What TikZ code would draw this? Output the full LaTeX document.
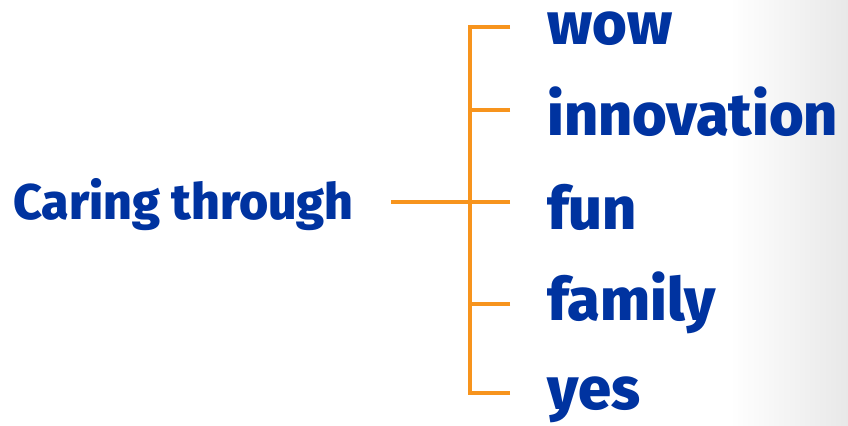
\documentclass[tikz,border=0pt]{standalone}
\usepackage{fontspec}
\setmainfont{Fira Sans}[BoldFont={Fira Sans ExtraBold}]
\usepackage{tikz}
\definecolor{brandblue}{RGB}{0,51,160}
\definecolor{brandorange}{RGB}{247,148,29}

\begin{document}
\begin{tikzpicture}[
    branch/.style={draw=brandorange, line width=2.4pt},
    word/.style={anchor=base west, inner sep=0pt, text=brandblue,
      font=\fontsize{42.3}{48}\selectfont\bfseries},
    lead/.style={anchor=base west, inner sep=0pt, text=brandblue,
      font=\fontsize{35.6}{40}\selectfont\bfseries}]
  \useasboundingbox (0cm,0cm) rectangle (21.2cm,-10.625cm);
  \shade[left color=white, right color=black!9] (18.25cm,0cm) rectangle (21.2cm,-10.625cm);
  % left label
  \node[lead] (caring) at (0.325cm,-5.475cm) {Caring through};
  % the words
  \node[word] (wow) at (13.675cm,-1.1cm) {wow};
  \node[word] (innovation) at (13.675cm,-3.375cm) {innovation};
  \node[word] (fun) at (13.675cm,-5.725cm) {fun};
  \node[word] (family) at (13.675cm,-8cm) {family};
  \node[word] (yes) at (13.675cm,-10.225cm) {yes};
  % bracket
  \coordinate (hub) at (11.75cm,-5.05cm);
  \coordinate (stem) at (9.775cm,-5.05cm);
  \coordinate (t1) at (12.75cm,-0.675cm);
  \coordinate (t2) at (12.75cm,-2.75cm);
  \coordinate (t3) at (12.75cm,-5.05cm);
  \coordinate (t4) at (12.75cm,-7.6cm);
  \coordinate (t5) at (12.75cm,-9.825cm);
  \draw[branch] (stem) -- (hub);
  \foreach \i in {1,...,5}
    \draw[branch] (t\i) -| (hub);
\end{tikzpicture}
\end{document}
